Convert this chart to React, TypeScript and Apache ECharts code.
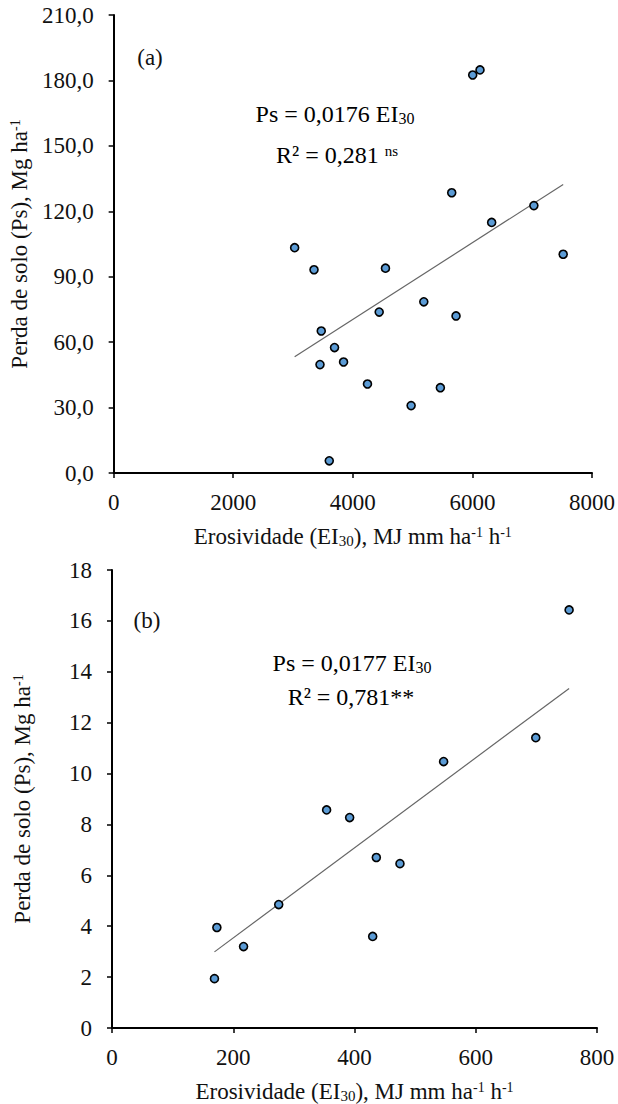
import React, { useEffect, useRef } from "react";
import * as echarts from "echarts";

// Panel (a)
const erosA = [6005, 6127, 5654, 6322, 7028, 3027, 7518, 3351, 4546, 5187, 4441, 5726, 3472, 3694, 3451, 3845, 4245, 5464, 4975, 3606];
const lossA = [182.5, 184.8, 128.5, 114.9, 122.6, 103.3, 100.3, 93.2, 93.9, 78.5, 73.8, 72.0, 65.1, 57.5, 49.7, 50.9, 40.8, 39.1, 30.9, 5.6];
const slopeA = 0.0176;

// Panel (b)
const erosB = [754, 699, 547, 354, 392, 436, 475, 275, 173, 217, 430, 169];
const lossB = [16.43, 11.41, 10.47, 8.57, 8.27, 6.7, 6.46, 4.85, 3.95, 3.2, 3.6, 1.94];
const slopeB = 0.0177;

const FONT = "Liberation Serif";
const TXT = "#111";

const rich = {
  b: { fontSize: 23, fontFamily: FONT, color: TXT },
  sub: { fontSize: 15, fontFamily: FONT, color: TXT, verticalAlign: "bottom" },
  sup: { fontSize: 14, fontFamily: FONT, color: TXT, verticalAlign: "top" },
};
const richEq = {
  b: { fontSize: 24, fontFamily: FONT, color: TXT },
  sub: { fontSize: 16, fontFamily: FONT, color: TXT, verticalAlign: "bottom" },
  sup: { fontSize: 15, fontFamily: FONT, color: TXT, verticalAlign: "top" },
};

const xName = "{b|Erosividade (EI}{sub|30}{b|), MJ mm ha}{sup|-1}{b| h}{sup|-1}";
const yName = "{b|Perda de solo (Ps), Mg ha}{sup|-1}";

function pts(xs: number[], ys: number[]) {
  return xs.map((x, i) => [x, ys[i]]);
}
function fit(xs: number[], k: number) {
  const lo = Math.min(...xs);
  const hi = Math.max(...xs);
  return [
    [lo, k * lo],
    [hi, k * hi],
  ];
}

export default function App() {
  const ref = useRef<HTMLDivElement>(null);
  useEffect(() => {
    if (!ref.current) return;
    const chart = echarts.init(ref.current, undefined, { renderer: "svg" });
    const axisCommon = {
      axisLine: { show: true, lineStyle: { color: "#000", width: 2 } },
      axisTick: { show: true, inside: false, length: 5, lineStyle: { color: "#000", width: 1.5 } },
      splitLine: { show: false },
      nameLocation: "middle" as const,
      nameTextStyle: { rich },
    };
    const labelStyle = { fontSize: 23, fontFamily: FONT, color: TXT };
    const scatterStyle = {
      type: "scatter" as const,
      symbol: "circle",
      symbolSize: 8,
      itemStyle: { color: "#5B9BD5", borderColor: "#000", borderWidth: 1.6, opacity: 1 },
      z: 3,
    };
    const lineStyle = {
      type: "line" as const,
      symbol: "none",
      lineStyle: { color: "#666", width: 1.2 },
      z: 2,
    };
    const plain = (v: number) => String(v);
    chart.setOption({
      animation: false,
      backgroundColor: "#fff",
      textStyle: { fontFamily: FONT },
      grid: [
        { left: 113, right: 26, top: 15, height: 458 },
        { left: 112, right: 21, top: 570, height: 460 },
      ],
      xAxis: [
        {
          ...axisCommon,
          gridIndex: 0,
          type: "value",
          min: 0,
          max: 8000,
          interval: 2000,
          axisLabel: { ...labelStyle, margin: 18, formatter: plain },
          name: xName,
          nameGap: 52,
        },
        {
          ...axisCommon,
          gridIndex: 1,
          type: "value",
          min: 0,
          max: 800,
          interval: 200,
          axisLabel: { ...labelStyle, margin: 18, formatter: plain },
          name: xName,
          nameGap: 52,
        },
      ],
      yAxis: [
        {
          ...axisCommon,
          gridIndex: 0,
          type: "value",
          min: 0,
          max: 210,
          interval: 30,
          axisLabel: {
            ...labelStyle,
            margin: 20,
            formatter: (v: number) => v.toFixed(1).replace(".", ","),
          },
          name: yName,
          nameGap: 78,
        },
        {
          ...axisCommon,
          gridIndex: 1,
          type: "value",
          min: 0,
          max: 18,
          interval: 2,
          axisLabel: { ...labelStyle, margin: 20, formatter: plain },
          name: yName,
          nameGap: 78,
        },
      ],
      graphic: [
        { type: "text", x: 150, y: 57, style: { text: "(a)", fontSize: 23, fontFamily: FONT, fill: TXT, align: "center", verticalAlign: "middle" } },
        { type: "text", x: 147, y: 620, style: { text: "(b)", fontSize: 23, fontFamily: FONT, fill: TXT, align: "center", verticalAlign: "middle" } },
        {
          type: "text",
          x: 335,
          y: 114,
          style: { text: "{b|Ps = 0,0176 EI}{sub|30}", rich: richEq, align: "center", verticalAlign: "middle" },
        },
        {
          type: "text",
          x: 337,
          y: 155,
          style: { text: "{b|R² = 0,281 }{sup|ns}", rich: richEq, align: "center", verticalAlign: "middle" },
        },
        {
          type: "text",
          x: 352,
          y: 663,
          style: { text: "{b|Ps = 0,0177 EI}{sub|30}", rich: richEq, align: "center", verticalAlign: "middle" },
        },
        {
          type: "text",
          x: 351,
          y: 697,
          style: { text: "{b|R² = 0,781**}", rich: richEq, align: "center", verticalAlign: "middle" },
        },
      ],
      series: [
        { ...lineStyle, xAxisIndex: 0, yAxisIndex: 0, data: fit(erosA, slopeA) },
        { ...scatterStyle, xAxisIndex: 0, yAxisIndex: 0, data: pts(erosA, lossA) },
        { ...lineStyle, xAxisIndex: 1, yAxisIndex: 1, data: fit(erosB, slopeB) },
        { ...scatterStyle, xAxisIndex: 1, yAxisIndex: 1, data: pts(erosB, lossB) },
      ],
    });
    return () => chart.dispose();
  }, []);
  return (
    <div
      ref={ref}
      style={{ position: "absolute", left: 0, top: 0, width: 618, height: 1104, background: "#fff" }}
    />
  );
}
